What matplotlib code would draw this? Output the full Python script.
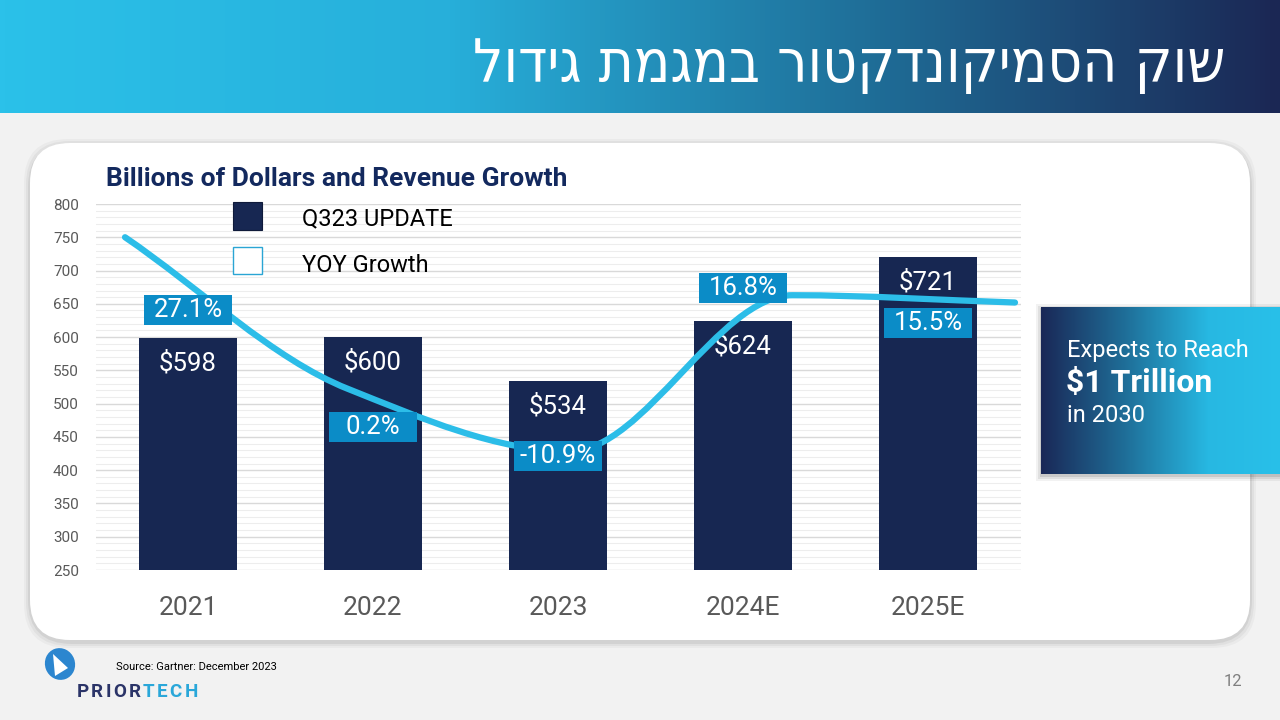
import numpy as np
import matplotlib
matplotlib.use("Agg")
import matplotlib.pyplot as plt
from matplotlib.patches import Rectangle, FancyBboxPatch, Ellipse, Polygon, PathPatch
from matplotlib.path import Path
from matplotlib.colors import LinearSegmentedColormap

plt.rcParams['font.family'] = ['Roboto', 'DejaVu Sans']

# data
years = ["2021", "2022", "2023", "2024E", "2025E"]
revenue = [598, 600, 534, 624, 721]          # billions of dollars
growth = [27.1, 0.2, -10.9, 16.8, 15.5]      # YOY growth %
title_he = "שוק הסמיקונדקטור במגמת גידול"

# layout (y positions of the growth labels, in $B axis units)
growth_label_y = [641, 465, 421, 674, 621]

navy = "#172752"
cyan = "#2CBDE8"
label_blue = "#0B8CC7"

fig = plt.figure(figsize=(12.8, 7.2), dpi=100)

# ---- background layer (pixel coordinates) ----
bg = fig.add_axes([0, 0, 1, 1])
bg.axis("off")
bg.add_patch(Rectangle((0, 0), 1280, 720, color="#F2F2F2", zorder=0))

head_cmap = LinearSegmentedColormap.from_list(
    "head", [(0, "#2BC1E9"), (0.35, "#27AFDA"), (0.68, "#1F6E98"), (1, "#1B2754")])
grad = np.linspace(0, 1, 256).reshape(1, -1)
bg.imshow(grad, cmap=head_cmap, extent=[0, 1280, 113, 0], aspect="auto", zorder=1)

# white panel with soft shadow
for k, a in [(6, 0.03), (4, 0.04), (2, 0.06)]:
    bg.add_patch(FancyBboxPatch((30 - k, 143 - k + 2), 1220 + 2 * k, 497 + 2 * k,
                                boxstyle="round,pad=0,rounding_size=44",
                                fc="black", ec="none", alpha=a, zorder=2))
bg.add_patch(FancyBboxPatch((30, 143), 1220, 497, boxstyle="round,pad=0,rounding_size=40",
                            fc="white", ec="none", zorder=3))
bg.set_xlim(0, 1280)
bg.set_ylim(720, 0)

bg.text(1225, 66, title_he[::-1], color="white", fontsize=43, ha="right", va="center",
        family=["DejaVu Sans"], fontweight="light", fontstretch="condensed", zorder=5)

# ---- main chart ----
rect = [95.5 / 1280, 150 / 720, 925 / 1280, 366 / 720]
ax = fig.add_axes(rect)
ax.patch.set_visible(False)
x = np.arange(len(years))
ax.bar(x, revenue, width=0.53, color=navy, zorder=2)
for i, v in enumerate(revenue):
    ax.text(i, v - 38, f"${v}", color="white", fontsize=18.5, ha="center", va="center", zorder=3)

ax.set_xlim(-0.5, 4.5)
ax.set_ylim(250, 800)
ax.set_yticks(range(250, 801, 50))
ax.set_yticks([v for v in range(250, 801, 10) if v % 50], minor=True)
ax.grid(axis="y", which="major", color="#D9D9D9", lw=1)
ax.grid(axis="y", which="minor", color="#EDEDED", lw=0.8)
ax.set_axisbelow(True)
ax.set_xticks(x)
ax.set_xticklabels(years)
ax.tick_params(axis="y", which="both", length=0, labelsize=11, labelcolor="#595959", pad=12)
ax.tick_params(axis="x", length=0, labelsize=19, labelcolor="#595959", pad=19)
for s in ax.spines.values():
    s.set_visible(False)

# ---- growth line on its own axes (shape-preserving smooth curve) ----
ax2 = fig.add_axes(rect)
ax2.patch.set_visible(False)
ax2.axis("off")
gy = np.array(growth, dtype=float)
d = np.diff(gy)
m = np.zeros_like(gy)
m[0], m[-1] = d[0], d[-1]
for k in range(1, len(gy) - 1):
    if d[k - 1] * d[k] > 0:
        m[k] = 2 / (1 / d[k - 1] + 1 / d[k])
verts = [(x[0], gy[0])]
codes = [Path.MOVETO]
for k in range(len(gy) - 1):
    verts += [(x[k] + 1 / 3, gy[k] + m[k] / 3), (x[k + 1] - 1 / 3, gy[k + 1] - m[k + 1] / 3),
              (x[k + 1], gy[k + 1])]
    codes += [Path.CURVE4] * 3
ax2.add_patch(PathPatch(Path(verts, codes), fc="none", ec=cyan, lw=4.5,
                        capstyle="round", zorder=2))

for i, (g, ly) in enumerate(zip(growth, growth_label_y)):
    ax2.add_patch(Rectangle((i - 0.238, ly - 22.5), 0.476, 45, fc=label_blue, ec="none",
                            transform=ax.transData, zorder=3))
    ax2.text(i, ly, f"{g}%", color="white", fontsize=18.5, ha="center", va="center",
             transform=ax.transData, zorder=4)
ax2.set_xlim(-0.1326, 4.0247)
ax2.set_ylim(-32, 33)

# ---- top layer: titles, legend, callout, footer ----
top = fig.add_axes([0, 0, 1, 1])
top.axis("off")
top.patch.set_visible(False)

top.text(106, 179, "Billions of Dollars and Revenue Growth", color="#13295E", fontsize=19,
         fontweight="bold", ha="left", va="center")

top.add_patch(Rectangle((233, 202), 29, 28, fc=navy, ec="#0F1A3A", lw=0.8))
top.text(302, 219, "Q323 UPDATE", fontsize=17, color="black", ha="left", va="center")
top.add_patch(Rectangle((233, 247), 29, 27, fc="white", ec="#2AA5D4", lw=1))
top.text(302, 265, "YOY Growth", fontsize=17, color="black", ha="left", va="center")

# callout box
for k, a in [(5, 0.05), (3, 0.07), (1, 0.1)]:
    top.add_patch(Rectangle((1041 - k, 307 - k + 2), 250, 167 + 2 * k, fc="black",
                            ec="none", alpha=a))
box_cmap = LinearSegmentedColormap.from_list(
    "box", [(0, "#1A2857"), (0.35, "#1F6E98"), (0.7, "#27B8E2"), (1, "#29C0E9")])
top.imshow(grad, cmap=box_cmap, extent=[1041, 1280, 474, 307], aspect="auto", zorder=2)
top.text(1067, 350, "Expects to Reach", color="white", fontsize=17, ha="left", va="center", zorder=3)
top.text(1066, 383, "$1 Trillion", color="white", fontsize=23, fontweight="bold",
         ha="left", va="center", zorder=3)
top.text(1067, 416, "in 2030", color="white", fontsize=17, ha="left", va="center", zorder=3)

# footer
top.add_patch(Ellipse((60, 664), 30, 32, angle=-20, fc="#2C86CF", ec="none"))
top.add_patch(Polygon([[53, 654], [68, 668], [55, 676]], fc="white", ec="none"))
adv = {"P": .63, "R": .63, "I": .29, "O": .69, "T": .61, "E": .57, "C": .65, "H": .71}
lx = 77
for j, ch in enumerate("PRIORTECH"):
    col = "#2B3468" if j < 5 else "#2AA7D9"
    top.text(lx, 692, ch, color=col, fontsize=13.5, fontweight="bold", ha="left", va="center")
    lx += adv[ch] * 18.75 + 2.4
top.text(116, 667, "Source: Gartner: December 2023", color="black", fontsize=8, ha="left", va="center")
top.text(1233, 682, "12", color="#7F7F7F", fontsize=12, ha="center", va="center")
top.set_xlim(0, 1280)
top.set_ylim(720, 0)

fig.savefig("out.png", dpi=100)
